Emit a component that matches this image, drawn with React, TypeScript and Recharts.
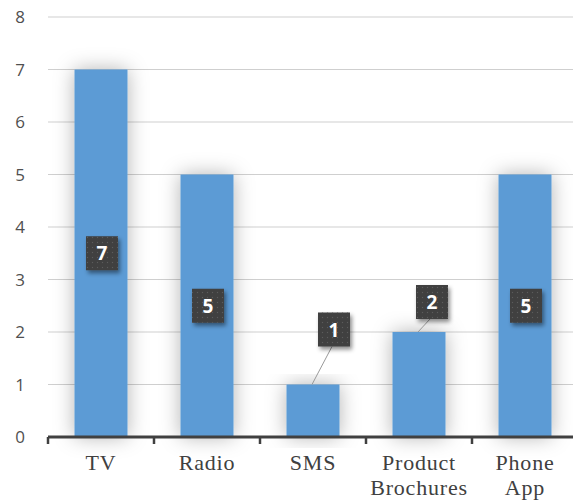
import { Bar, BarChart, CartesianGrid, LabelList, XAxis, YAxis } from "recharts";

const channels = ["TV", "Radio", "SMS", "Product Brochures", "Phone App"];
const responses = [7, 5, 1, 2, 5];
const yTicks = [0, 1, 2, 3, 4, 5, 6, 7, 8];

const data = channels.map((channel, i) => ({ channel, responses: responses[i] }));

const W = 573;
const H = 502;
const AXIS_W = 48;
const RIGHT = -5; // plot area runs slightly past the right edge
const BAND = (W - AXIS_W - RIGHT) / channels.length;

// labels on short bars sit outside the bar with a leader line
const callouts: Record<string, { dx: number; dy: number }> = {
  SMS: { dx: 21, dy: -55 },
  "Product Brochures": { dx: 13, dy: -30 },
};

function ChannelTick(props: any) {
  const { x, y, payload, index } = props;
  const words = String(payload.value).split(" ");
  const lines = words.length > 1 ? words : [payload.value];
  return (
    <g>
      <line x1={x - BAND / 2} x2={x - BAND / 2} y1={y} y2={y + 7} stroke="#404040" strokeWidth={2.5} />
      {index === channels.length - 1 && (
        <line x1={x + BAND / 2} x2={x + BAND / 2} y1={y} y2={y + 7} stroke="#404040" strokeWidth={2.5} />
      )}
      {lines.map((line: string, i: number) => (
        <text
          key={i}
          x={x}
          y={y + 33 + i * 25}
          textAnchor="middle"
          fontFamily="'Liberation Serif', serif"
          fontSize={22}
          letterSpacing={0.8}
          fill="#404040"
        >
          {line}
        </text>
      ))}
    </g>
  );
}

function ValueTick(props: any) {
  const { y, payload } = props;
  return (
    <text
      x={20}
      y={y}
      dy={6}
      textAnchor="middle"
      fontFamily="'Open Sans', sans-serif"
      fontSize={17}
      fill="#505050"
    >
      {payload.value}
    </text>
  );
}

function ValueBadge(props: any) {
  const { x, y, width, height, value, index } = props;
  const cx = x + width / 2;
  const off = callouts[channels[index]];
  const bx = off ? cx + off.dx : cx + 1;
  const by = off ? y + off.dy : y + height / 2;
  return (
    <g>
      {off && <line x1={bx - 2} y1={by + 17} x2={cx - 1} y2={y} stroke="#9a9a9a" strokeWidth={1} />}
      <g filter="url(#badgeShadow)">
        <rect x={bx - 16} y={by - 17} width={32} height={34} fill="#3f3f3f" />
        <rect x={bx - 16} y={by - 17} width={32} height={34} fill="url(#badgeDots)" />
      </g>
      <text
        x={bx}
        y={by}
        dy={7}
        textAnchor="middle"
        fontFamily="'Open Sans', sans-serif"
        fontWeight={700}
        fontSize={19}
        fill="#ffffff"
      >
        {value}
      </text>
    </g>
  );
}

function ShadowBar(props: any) {
  const { x, y, width, height, fill } = props;
  return <rect x={x} y={y} width={width} height={height} fill={fill} filter="url(#barGlow)" />;
}

export default function App() {
  return (
    <div style={{ position: "absolute", left: 0, top: 0, background: "#fff" }}>
      <BarChart
        width={W}
        height={H}
        data={data}
        margin={{ top: 17, right: RIGHT, left: 0, bottom: 5 }}
        barCategoryGap="25%"
      >
        <defs>
          <filter id="barGlow" x="-60%" y="-20%" width="220%" height="140%">
            <feDropShadow dx="0" dy="0" stdDeviation="10" floodColor="#000" floodOpacity="0.3" />
          </filter>
          <filter id="badgeShadow" x="-40%" y="-40%" width="200%" height="200%">
            <feDropShadow dx="2" dy="3" stdDeviation="2" floodColor="#000" floodOpacity="0.45" />
          </filter>
          <pattern id="badgeDots" width="5" height="5" patternUnits="userSpaceOnUse">
            <circle cx="2.5" cy="2.5" r="0.7" fill="#5c5c5c" />
          </pattern>
        </defs>
        <CartesianGrid vertical={false} stroke="#cfcfcf" strokeWidth={1.2} />
        <YAxis
          width={AXIS_W}
          domain={[0, 8]}
          ticks={yTicks}
          interval={0}
          axisLine={false}
          tickLine={false}
          tick={<ValueTick />}
        />
        <XAxis
          dataKey="channel"
          height={60}
          interval={0}
          tickLine={false}
          tickSize={0}
          tickMargin={0}
          axisLine={{ stroke: "#404040", strokeWidth: 3 }}
          tick={<ChannelTick />}
        />
        <Bar dataKey="responses" fill="#5b9bd5" shape={<ShadowBar />} isAnimationActive={false}>
          <LabelList dataKey="responses" content={<ValueBadge />} />
        </Bar>
      </BarChart>
    </div>
  );
}
